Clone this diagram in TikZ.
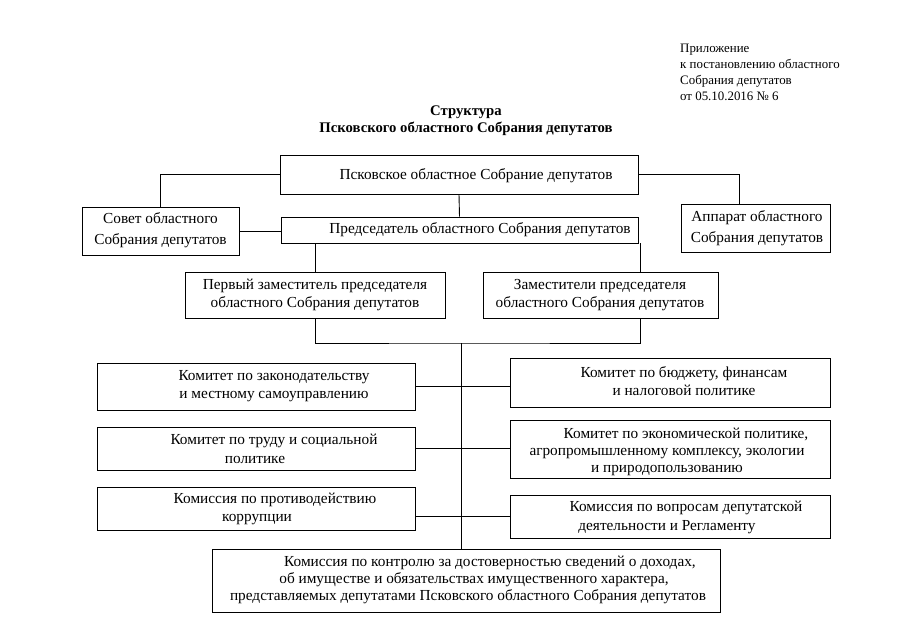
\documentclass[tikz,border=0pt]{standalone}
\usepackage{fontspec}
\setmainfont{Liberation Serif}
\begin{document}
\begin{tikzpicture}[x=1pt,y=-1pt,
  box/.style={draw, line width=0.9pt, rectangle, inner sep=0pt},
  txt/.style={align=center, inner sep=0pt, font=\fontsize{15.3}{18.5}\selectfont},
  txtw/.style={align=center, inner sep=0pt, font=\fontsize{15.3}{20.5}\selectfont},
  txtn/.style={align=center, inner sep=0pt, font=\fontsize{15.3}{17.2}\selectfont},
  conn/.style={draw, line width=0.9pt}]
\useasboundingbox[fill=white] (0,0) rectangle (905,640);

% annex and title
\node[anchor=north west, align=left, inner sep=0pt, font=\fontsize{12.9}{15.8}\selectfont] (annex) at (680,44)
  {Приложение\\к постановлению областного\\Собрания депутатов\\от 05.10.2016 № 6};
\node[align=center, inner sep=0pt, font=\bfseries\fontsize{14.7}{17}\selectfont] (title) at (466,121)
  {Структура\\Псковского областного Собрания депутатов};

% boxes
\node[box, minimum width=358, minimum height=39] (top) at (459,174.5) {};
\node[box, minimum width=157, minimum height=48] (sovet) at (160.5,231) {};
\node[box, minimum width=357, minimum height=26] (pred) at (459.5,230) {};
\node[box, minimum width=149, minimum height=48] (app) at (755.5,228) {};
\node[box, minimum width=260, minimum height=46] (perv) at (315,295) {};
\node[box, minimum width=235, minimum height=46] (zam) at (600.5,295) {};
\node[box, minimum width=318, minimum height=47] (k1) at (256,386.5) {};
\node[box, minimum width=318, minimum height=43] (k2) at (256,448.5) {};
\node[box, minimum width=318, minimum height=43] (k3) at (256,508.5) {};
\node[box, minimum width=320, minimum height=49] (r1) at (670,382.5) {};
\node[box, minimum width=320, minimum height=58] (r2) at (670,449) {};
\node[box, minimum width=320, minimum height=43] (r3) at (670,516.5) {};
\node[box, minimum width=508, minimum height=63] (bot) at (466,580.5) {};

% texts
\node[txt] (ttop) at (476,176) {Псковское областное Собрание депутатов};
\node[txtw] (tsovet) at (160.5,230) {Совет областного\\Собрания депутатов};
\node[txt] (tpred) at (480,230) {Председатель областного Собрания депутатов};
\node[txtw] (tapp) at (757,228) {Аппарат областного\\Собрания депутатов};
\node[txt] (tperv) at (315,295) {Первый заместитель председателя\\областного Собрания депутатов};
\node[txt] (tzam) at (600,295) {Заместители председателя\\областного Собрания депутатов};
\node[txt] (tk1) at (274,386) {Комитет по законодательству\\и местному самоуправлению};
\node[txt] (tk2) at (274,449) {Комитет по труду и социальной\\политике\hspace*{38pt}};
\node[txt] (tk3) at (275,509) {Комиссия по противодействию\\коррупции\hspace*{36pt}};
\node[txt] (tr1) at (684,381) {Комитет по бюджету, финансам\\и налоговой политике};
\node[txtn] (tr2) at (667,452) {\hspace*{38pt}Комитет по экономической политике,\\агропромышленному комплексу, экологии\\и природопользованию};
\node[txt] (tr3) at (667,517.5) {\hspace*{38pt}Комиссия по вопросам депутатской\\деятельности и Регламенту};
\node[txtn] (tbot) at (468,580) {\hspace*{44pt}Комиссия по контролю за достоверностью сведений о доходах,\\\hspace*{12pt}об имуществе и обязательствах имущественного характера,\\представляемых депутатами Псковского областного Собрания депутатов};

% connectors
\coordinate (zamx) at (640,300);
\coordinate (appx) at (739,228);
\coordinate (hub) at (461,343);
\draw[conn] (sovet.north) |- (top.west);
\draw[conn] (top.east) -| (app.north -| appx);
\draw[conn] (sovet.east) -- (pred.west |- sovet.east);
\draw[conn] (top.south) -- (pred.north);
\draw[conn] (pred.south -| perv.north) -- (perv.north);
\draw[conn] (pred.south -| zamx) -- (zam.north -| zamx);
\draw[conn] (perv.south) |- (hub) -| (zam.south -| zamx);
\draw[conn] (hub) -- (bot.north -| hub);
\draw[conn] (k1.east) -- (r1.west |- k1.east);
\draw[conn] (k2.east) -- (r2.west |- k2.east);
\draw[conn] (k3.east |- r3.west) -- (r3.west);
\end{tikzpicture}
\end{document}
